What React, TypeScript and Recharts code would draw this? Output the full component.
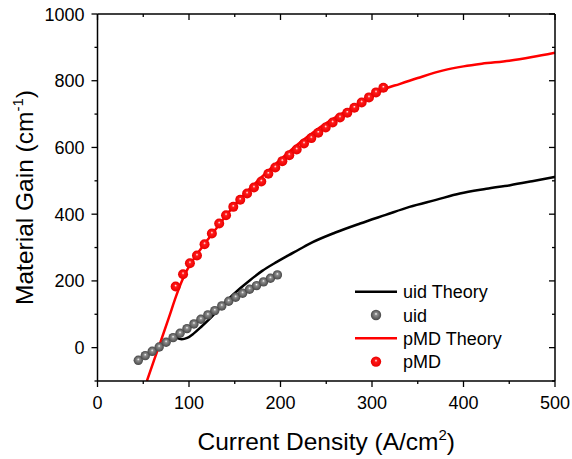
import { ComposedChart, Line, Scatter, XAxis, YAxis } from 'recharts';

// measured points
const uidX = [44.6, 52.2, 59.8, 67.4, 75, 82.6, 90.2, 97.8, 105.4, 113, 120.6, 128.2, 135.8, 143.4, 151, 158.6, 166.2, 173.8, 181.4, 189, 196.6];
const uidY = [-38, -24, -11, 2, 16, 30, 43, 57, 71, 85, 98, 111, 125, 139, 151, 163, 175, 186, 197, 208, 218];

const pmdX = [85.4, 93.5, 101, 108.7, 117, 125, 133, 140.5, 148.4, 156, 163.5, 171, 179, 186.7, 194.3, 202, 209.6, 217.7, 225.7, 233.7, 241.3, 249.4, 257, 265, 273, 280.7, 288.7, 296.7, 304.4, 312.4];
const pmdY = [183, 220, 253, 276, 310, 342, 372, 397, 422, 443, 462, 480, 498, 521, 540, 559, 577, 594, 612, 628, 644, 660, 675, 690, 704, 719, 735, 750, 765, 779];

// theory curves
const uidTheoryX = [86, 92, 98, 105, 114, 125, 141, 156, 167, 180, 196, 215, 232, 260, 287, 315, 341, 370, 396, 425, 451, 475, 500];
const uidTheoryY = [30, 25, 29, 42, 64, 93, 140, 178, 203, 230, 257, 286, 312, 345, 372, 398, 422, 443, 462, 476, 487, 499, 512];

const pmdTheoryX = [54, 62, 70, 78, 86, 92, 97, 102, 110, 120, 130, 140, 150, 160, 170, 185, 200, 220, 240, 260, 280, 300, 313, 330, 350, 378, 400, 420, 450, 475, 500];
const pmdTheoryY = [-100, -36, 26, 90, 155, 198, 228, 252, 285, 322, 358, 394, 428, 458, 486, 526, 564, 612, 654, 690, 722, 751, 774, 790, 808, 831, 843, 851, 860, 871, 884];

const xTicks = [0, 50, 100, 150, 200, 250, 300, 350, 400, 450, 500];
const yTicks = [-100, 0, 100, 200, 300, 400, 500, 600, 700, 800, 900, 1000];
const X_DOMAIN = [0, 500];
const Y_DOMAIN = [-100, 1000];

const zip = (xs: number[], ys: number[]) => xs.map((x, i) => ({ x, y: ys[i] }));
const uidData = zip(uidX, uidY);
const pmdData = zip(pmdX, pmdY);
const uidTheory = zip(uidTheoryX, uidTheoryY);
const pmdTheory = zip(pmdTheoryX, pmdTheoryY);

const W = 572;
const H = 459;
const MARGIN = { top: 14, right: 17, bottom: 0, left: 0 };
const Y_AXIS_W = 97.5;
const X_AXIS_H = 78;
const PLOT_L = MARGIN.left + Y_AXIS_W;
const PLOT_T = MARGIN.top;
const PLOT_W = W - MARGIN.right - PLOT_L;
const PLOT_H = H - MARGIN.bottom - X_AXIS_H - PLOT_T;

const FONT = 'Arial, "Liberation Sans", sans-serif';
const AX = { stroke: '#000', strokeWidth: 1.5 };

const isMajorX = (v: number) => v % 100 === 0;
const isMajorY = (v: number) => v % 200 === 0;

const BottomTick = ({ x, y, payload }: any) => {
  const major = isMajorX(payload.value);
  return (
    <g>
      <line x1={x} x2={x} y1={y} y2={y + (major ? 6 : 3)} stroke="#000" strokeWidth={1.3} />
      {major && (
        <text x={x} y={y + 28} textAnchor="middle" fontSize={18} fontFamily={FONT} fill="#000">
          {payload.value}
        </text>
      )}
    </g>
  );
};

const LeftTick = ({ x, y, payload }: any) => {
  const major = isMajorY(payload.value);
  return (
    <g>
      <line x1={x - (major ? 6 : 3)} x2={x} y1={y} y2={y} stroke="#000" strokeWidth={1.3} />
      {major && (
        <text x={x - 13} y={y + 6.5} textAnchor="end" fontSize={18} fontFamily={FONT} fill="#000">
          {payload.value}
        </text>
      )}
    </g>
  );
};

// top / right edges of the Origin-style box with inward mirror ticks
const sx = (v: number) => PLOT_L + ((v - X_DOMAIN[0]) / (X_DOMAIN[1] - X_DOMAIN[0])) * PLOT_W;
const sy = (v: number) => PLOT_T + ((Y_DOMAIN[1] - v) / (Y_DOMAIN[1] - Y_DOMAIN[0])) * PLOT_H;

const Frame = () => {
  const right = PLOT_L + PLOT_W;
  const bottom = PLOT_T + PLOT_H;
  return (
    <svg width={W} height={H} style={{ position: 'absolute', left: 0, top: 0, pointerEvents: 'none' }}>
      <line x1={PLOT_L} x2={right} y1={PLOT_T} y2={PLOT_T} {...AX} />
      <line x1={right} x2={right} y1={PLOT_T} y2={bottom} {...AX} />
      {xTicks.map((v) => (
        <line key={`t${v}`} x1={sx(v)} x2={sx(v)} y1={PLOT_T} y2={PLOT_T + (isMajorX(v) ? 6 : 3)} stroke="#000" strokeWidth={1.3} />
      ))}
      {yTicks.map((v) => (
        <line key={`r${v}`} x1={right - (isMajorY(v) ? 6 : 3)} x2={right} y1={sy(v)} y2={sy(v)} stroke="#000" strokeWidth={1.3} />
      ))}
    </svg>
  );
};

const ball = (fill: string, r: number) => (p: any) => <circle cx={p.cx} cy={p.cy} r={r} fill={fill} />;

const YTitle = ({ viewBox }: any) => {
  const cy = viewBox.y + viewBox.height / 2;
  return (
    <text x={33} y={cy} transform={`rotate(-90 33 ${cy})`} textAnchor="middle" fontSize={24.5} fontFamily={FONT} fill="#000">
      Material Gain (cm<tspan dy={-10} fontSize={15}>-1</tspan>
      <tspan dy={10}>)</tspan>
    </text>
  );
};

const XTitle = ({ viewBox }: any) => {
  const cx = viewBox.x + viewBox.width / 2;
  return (
    <text x={cx} y={450} textAnchor="middle" fontSize={24.5} fontFamily={FONT} fill="#000">
      Current Density (A/cm<tspan dy={-10} fontSize={15}>2</tspan>
      <tspan dy={10}>)</tspan>
    </text>
  );
};

const legendItems = [
  { label: 'uid Theory', kind: 'line', color: '#000' },
  { label: 'uid', kind: 'ball', color: 'url(#grayBall)' },
  { label: 'pMD Theory', kind: 'line', color: '#ff0000' },
  { label: 'pMD', kind: 'ball', color: 'url(#redBall)' },
];

export default function App() {
  return (
    <div style={{ position: 'absolute', left: 0, top: 0, width: W, height: H, background: '#fff' }}>
      <svg width={0} height={0} style={{ position: 'absolute' }}>
        <defs>
          <radialGradient id="grayBall" cx="50%" cy="50%" r="50%" fx="50%" fy="38%">
            <stop offset="0%" stopColor="#ffffff" />
            <stop offset="28%" stopColor="#8c8c8c" />
            <stop offset="100%" stopColor="#474747" />
          </radialGradient>
          <radialGradient id="redBall" cx="50%" cy="50%" r="50%" fx="50%" fy="38%">
            <stop offset="0%" stopColor="#ffffff" />
            <stop offset="28%" stopColor="#ff1a1a" />
            <stop offset="100%" stopColor="#e80000" />
          </radialGradient>
        </defs>
      </svg>
      <ComposedChart width={W} height={H} margin={MARGIN}>
        <XAxis
          type="number"
          dataKey="x"
          domain={X_DOMAIN}
          ticks={xTicks}
          interval={0}
          allowDataOverflow
          height={X_AXIS_H}
          axisLine={AX}
          tickLine={false}
          tickSize={0}
          tickMargin={0}
          tick={<BottomTick />}
          label={<XTitle />}
        />
        <YAxis
          type="number"
          dataKey="y"
          domain={Y_DOMAIN}
          ticks={yTicks}
          interval={0}
          allowDataOverflow
          width={Y_AXIS_W}
          axisLine={AX}
          tickLine={false}
          tickSize={0}
          tickMargin={0}
          tick={<LeftTick />}
          label={<YTitle />}
        />
        <Line data={uidTheory} dataKey="y" type="monotone" stroke="#000" strokeWidth={2.5} dot={false} isAnimationActive={false} />
        <Scatter data={uidData} dataKey="y" shape={ball('url(#grayBall)', 4.7)} isAnimationActive={false} />
        <Line data={pmdTheory} dataKey="y" type="monotone" stroke="#ff0000" strokeWidth={2.5} dot={false} isAnimationActive={false} />
        <Scatter data={pmdData} dataKey="y" shape={ball('url(#redBall)', 5)} isAnimationActive={false} />
      </ComposedChart>
      <Frame />
      <svg width={200} height={100} style={{ position: 'absolute', left: 350, top: 280 }}>
        {legendItems.map((it, i) => {
          const cy = 11.7 + i * 23.3;
          return (
            <g key={it.label}>
              {it.kind === 'line' ? (
                <line x1={5} x2={47} y1={cy} y2={cy} stroke={it.color} strokeWidth={2.5} />
              ) : (
                <circle cx={26} cy={cy} r={5.2} fill={it.color} />
              )}
              <text x={53} y={cy + 6.6} fontSize={18} fontFamily={FONT} fill="#000">
                {it.label}
              </text>
            </g>
          );
        })}
      </svg>
    </div>
  );
}
